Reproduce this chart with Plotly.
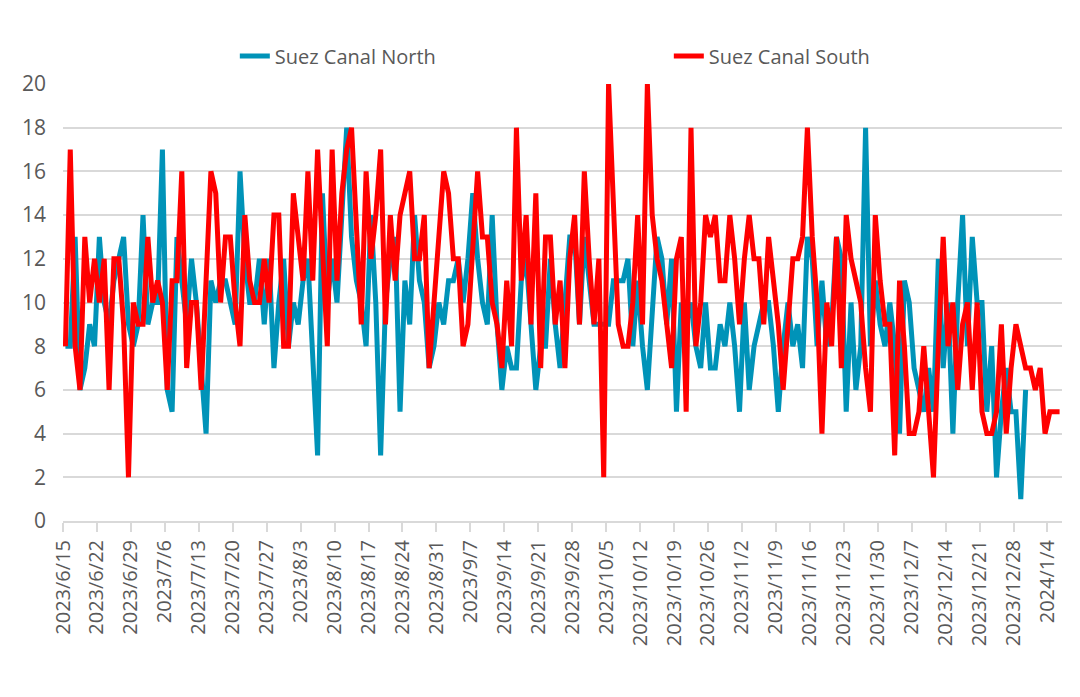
import pandas as pd
import plotly.graph_objects as go

start_date = '2023-06-15'

# daily transits, 2023/6/15 onwards
north = [8, 8, 13, 6, 7, 9, 8, 13, 10, 9, 11, 12, 13, 9, 8, 9, 14, 9, 10, 10,
         17, 6, 5, 13, 11, 9, 12, 10, 7, 4, 11, 10, 11, 11, 10, 9, 16, 12, 10, 10,
         12, 9, 12, 7, 10, 12, 8, 10, 9, 11, 12, 7, 3, 15, 10, 12, 10, 14, 18, 13,
         11, 10, 8, 14, 10, 3, 10, 12, 13, 5, 11, 9, 14, 11, 10, 7, 8, 10, 9, 11,
         11, 12, 10, 12, 15, 12, 10, 9, 14, 9, 6, 8, 7, 7, 11, 12, 9, 6, 8, 8,
         12, 9, 7, 10, 13, 13, 9, 13, 11, 9, 9, 9, 9, 11, 11, 11, 12, 8, 11, 8,
         6, 10, 13, 12, 9, 12, 5, 10, 9, 10, 8, 7, 10, 7, 7, 9, 8, 10, 8, 5,
         10, 6, 8, 9, 10, 10, 8, 5, 8, 10, 8, 9, 7, 13, 12, 8, 11, 8, 9, 13,
         12, 5, 10, 6, 8, 18, 8, 11, 9, 8, 10, 8, 4, 11, 10, 7, 6, 5, 7, 5,
         12, 7, 10, 4, 10, 14, 8, 13, 10, 10, 5, 8, 2, 5, 7, 5, 5, 1, 6]

south = [8, 17, 8, 6, 13, 10, 12, 10, 12, 6, 12, 12, 9, 2, 10, 9, 9, 13, 10, 11,
         10, 6, 11, 11, 16, 7, 10, 10, 6, 11, 16, 15, 10, 13, 13, 10, 8, 14, 11, 10,
         10, 12, 10, 14, 14, 8, 8, 15, 13, 11, 16, 11, 17, 12, 8, 17, 11, 15, 17, 18,
         13, 9, 16, 12, 14, 17, 9, 14, 11, 14, 15, 16, 12, 12, 14, 7, 10, 13, 16, 15,
         12, 12, 8, 9, 13, 16, 13, 13, 10, 9, 7, 11, 8, 18, 11, 14, 9, 15, 7, 13,
         13, 9, 11, 7, 12, 14, 9, 16, 12, 9, 12, 2, 20, 14, 9, 8, 8, 10, 14, 9,
         20, 14, 12, 11, 9, 7, 12, 13, 5, 18, 8, 10, 14, 13, 14, 11, 11, 14, 12, 9,
         12, 14, 12, 12, 9, 13, 11, 9, 6, 9, 12, 12, 13, 18, 13, 10, 4, 10, 8, 13,
         7, 14, 12, 11, 10, 7, 5, 14, 11, 9, 9, 3, 11, 8, 4, 4, 5, 8, 5, 2,
         8, 13, 8, 10, 6, 9, 10, 6, 10, 5, 4, 4, 5, 9, 4, 7, 9, 8, 7, 7,
         6, 7, 4, 5, 5, 5]

# each day's value sits in the middle of its day slot, like the excel date axis
north_dates = pd.date_range(start_date, periods=len(north), freq='D') + pd.Timedelta(hours=12)
south_dates = pd.date_range(start_date, periods=len(south), freq='D') + pd.Timedelta(hours=12)

tick_dates = pd.date_range('2023-06-15', '2024-01-04', freq='7D')
tick_text = [f'{d.year}/{d.month}/{d.day}' for d in tick_dates]

grey_text = '#595959'
grid_col = '#d9d9d9'

fig = go.Figure()
fig.add_trace(go.Scatter(x=north_dates, y=north, mode='lines', name='Suez Canal North',
                         line=dict(color='#0093b8', width=5)))
fig.add_trace(go.Scatter(x=south_dates, y=south, mode='lines', name='Suez Canal South',
                         line=dict(color='#ff0000', width=5)))

# page body has an 8px margin, so the figure is sized/offset to fit the window
fig.update_layout(
    width=1064, height=681,
    margin=dict(l=55, r=10, t=76, b=168, autoexpand=False),
    paper_bgcolor='white', plot_bgcolor='white',
    font=dict(family='Open Sans', size=20, color=grey_text),
    showlegend=True,
    legend=dict(orientation='h', x=0.172, xanchor='left', y=1.064, yanchor='middle',
                font=dict(size=20, color=grey_text), entrywidth=389,
                bgcolor='rgba(0,0,0,0)'),
)
fig.update_xaxes(
    type='date', range=['2023-06-15', '2024-01-07'],
    tickmode='array', tickvals=tick_dates, ticktext=tick_text, tickangle=-90,
    ticks='outside', ticklen=9, tickwidth=1.5, tickcolor=grid_col,
    showline=True, linecolor=grid_col, linewidth=2,
    showgrid=False, zeroline=False, automargin=False,
    tickfont=dict(size=20, color=grey_text),
)
fig.update_yaxes(
    range=[0, 20], dtick=2, showgrid=True, gridcolor=grid_col, gridwidth=1.5,
    zeroline=False, showline=False, ticks='', ticklabelstandoff=16, automargin=False,
    tickfont=dict(size=21, color=grey_text),
)

fig.write_html('out.html')
